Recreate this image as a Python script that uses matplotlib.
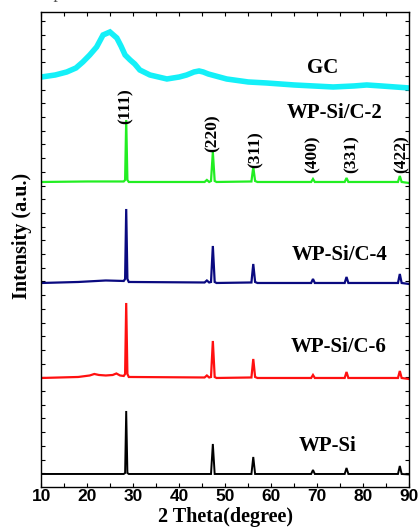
import numpy as np
import matplotlib.pyplot as plt
from matplotlib.ticker import MultipleLocator, FixedLocator

# XRD patterns, stacked with offsets (a.u.)
gc_theta = [10, 13, 15.5, 17.5, 19, 20.5, 22, 23.4, 24.9, 26.4, 27.3, 28.2, 29.3, 30.3,
            31.4, 33.6, 37.3, 40, 41.6, 43.2, 44.3, 45.2, 46.3, 50.3, 55, 59, 65, 73.5,
            78, 80.8, 84, 87, 90]
gc_int = [410, 412, 415, 419, 425, 432, 440, 452, 455, 449, 441, 432, 427, 423,
          417, 412, 408, 410, 412, 415, 416, 415, 413, 408, 405, 404, 402, 400,
          401, 402, 401, 400, 399]

c2_theta = [10, 20, 27.9, 28.2, 28.44, 28.7, 29, 45.5, 46.0, 46.5, 46.9, 47.3, 47.7, 48.1,
            55.7, 56.1, 56.5, 57, 68.7, 69.1, 69.5, 76.0, 76.4, 76.8, 87.6, 88.0, 88.4, 90]
c2_int = [305, 305.5, 305.5, 307, 367, 307, 305, 305, 307, 305, 306, 335, 306, 305,
          305.5, 320, 306, 305, 305, 308, 305, 305, 309, 305, 305, 311, 305, 304]

c4_theta = [10, 18, 24, 27.9, 28.2, 28.44, 28.7, 29, 45.5, 46.0, 46.5, 46.9, 47.3, 47.7, 48.1,
            55.7, 56.1, 56.5, 57, 68.7, 69.1, 69.5, 76.0, 76.4, 76.8, 87.6, 88.0, 88.4, 90]
c4_int = [204, 205, 206.5, 206, 208, 278, 208, 205, 204.5, 206.5, 204.5, 205, 241, 205, 204,
          204.5, 223, 205, 204, 204, 208, 204, 204, 210, 204, 204, 213, 204, 203]

c6_theta = [10, 18, 20.5, 21.5, 22.5, 24, 25.5, 26.3, 27.1, 27.9, 28.2, 28.44, 28.7, 29,
            45.5, 46.0, 46.5, 46.9, 47.3, 47.7, 48.1, 55.7, 56.1, 56.5, 57, 68.7, 69.1,
            69.5, 76.0, 76.4, 76.8, 87.6, 88.0, 88.4, 90]
c6_int = [109, 110, 111.5, 113, 112, 111.5, 112, 113.5, 111.5, 111, 113, 184, 113, 110,
          109.5, 111.5, 109.5, 110, 146, 110, 109, 109.5, 128, 110, 109, 109, 112,
          109, 109, 115, 109, 109, 116, 109, 108]

si_theta = [10, 27.9, 28.2, 28.44, 28.7, 29, 46.9, 47.3, 47.7, 55.7, 56.1, 56.5,
            68.7, 69.1, 69.5, 76.0, 76.4, 76.8, 87.6, 88.0, 88.4, 90]
si_int = [13, 13, 14, 76, 14, 13, 13, 43, 13, 13, 30, 13,
          13, 17, 13, 13, 19, 13, 13, 21, 13, 12.5]

series_theta = [gc_theta, c2_theta, c4_theta, c6_theta, si_theta]
series_int = [gc_int, c2_int, c4_int, c6_int, si_int]
series_names = ['GC', 'WP-Si/C-2', 'WP-Si/C-4', 'WP-Si/C-6', 'WP-Si']
series_colors = ['#14F0F8', '#22EE22', '#0A0A80', '#FF1010', '#000000']
series_lw = [4.0, 1.6, 1.6, 1.6, 1.4]
name_x = [71.3, 73.9, 74.9, 74.7, 72.2]
name_y = [419, 374, 232, 140, 41]

hkl = ['(111)', '(220)', '(311)', '(400)', '(331)', '(422)']
hkl_x = [28.4, 47.3, 56.6, 69.1, 77.6, 88.3]
hkl_y = [381, 354, 337, 333, 333, 333]

fig = plt.figure(figsize=(4.2, 5.31), dpi=100)
ax = fig.add_axes([0.0988, 0.0829, 0.875, 0.8936])

for th, it, c, lw in zip(series_theta, series_int, series_colors, series_lw):
    ax.plot(th, it, color=c, lw=lw, solid_joinstyle='miter')

for nm, x, y in zip(series_names, name_x, name_y):
    ax.text(x, y, nm, ha='center', va='center', fontsize=15,
            fontweight='bold', family='Liberation Serif')

for lab, x, y in zip(hkl, hkl_x, hkl_y):
    ax.text(x, y, lab, ha='center', va='center', rotation=90, fontsize=12.5,
            fontweight='bold', family='Liberation Serif')

ax.set_xlim(10, 90)
ax.set_ylim(0, 474.5)
ax.xaxis.set_major_locator(MultipleLocator(10))
ax.xaxis.set_minor_locator(MultipleLocator(5))
ax.yaxis.set_major_locator(FixedLocator(np.arange(13.7, 474, 13.7)))
ax.tick_params(which='both', direction='in', top=True, right=True, width=0.8,
               length=3)
ax.set_yticklabels([])
for lbl in ax.get_xticklabels():
    lbl.set_fontfamily('Liberation Sans')
    lbl.set_fontweight('bold')
    lbl.set_fontsize(12.5)
ax.tick_params(axis='x', pad=1.5)
for sp in ax.spines.values():
    sp.set_linewidth(1.0)

ax.set_xlabel('2 Theta(degree)', fontsize=14.5, fontweight='bold',
              family='Liberation Serif', labelpad=2)
ax.set_ylabel('Intensity (a.u.)', fontsize=14.5, fontweight='bold',
              family='Liberation Serif')
ax.yaxis.set_label_coords(-0.025, 0.53)

# clipped line of caption text from the page above the figure
fig.text(0.006, 1 + 2 / 531, 'as compared with the GC and WP-Si', fontsize=13,
         family='Liberation Serif', color='#555555', va='baseline')

fig.savefig('out.png', dpi=100)
